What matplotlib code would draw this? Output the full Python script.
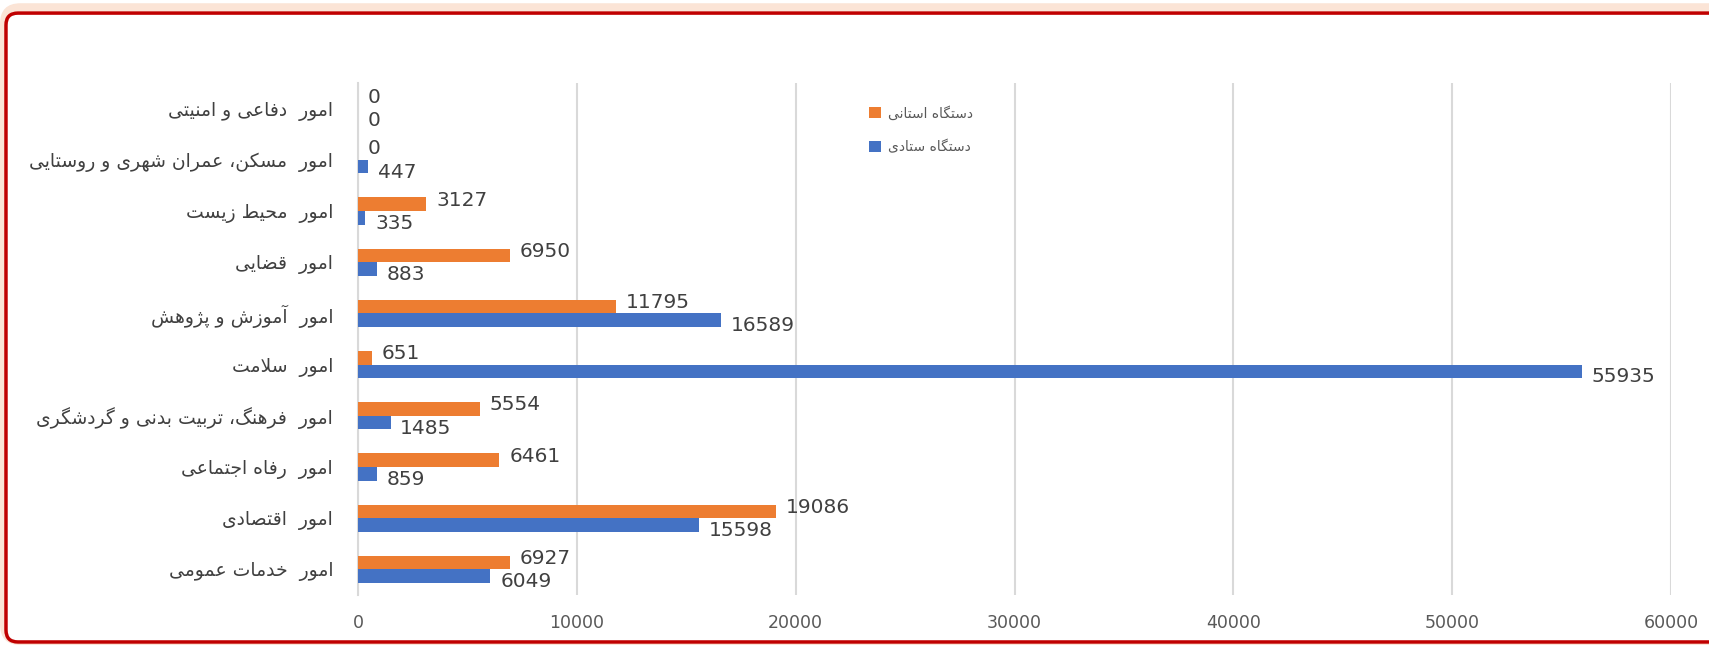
import matplotlib.pyplot as plt
from matplotlib.patches import FancyBboxPatch

# data, top to bottom as in the chart
categories = [
    "امور  دفاعی و امنیتی",
    "امور  مسکن، عمران شهری و روستایی",
    "امور  محیط زیست",
    "امور  قضایی",
    "امور  آموزش و پژوهش",
    "امور  سلامت",
    "امور  فرهنگ، تربیت بدنی و گردشگری",
    "امور  رفاه اجتماعی",
    "امور  اقتصادی",
    "امور  خدمات عمومی",
]
provincial = [0, 0, 3127, 6950, 11795, 651, 5554, 6461, 19086, 6927]
national = [0, 447, 335, 883, 16589, 55935, 1485, 859, 15598, 6049]
series_names = ["دستگاه استانی", "دستگاه ستادی"]
x_ticks = [0, 10000, 20000, 30000, 40000, 50000, 60000]

# tiny arabic/persian shaper: (isolated, final, initial, medial)
DUAL = {
    'ب': (0xFE8F, 0xFE90, 0xFE91, 0xFE92), 'پ': (0xFB56, 0xFB57, 0xFB58, 0xFB59),
    'ت': (0xFE95, 0xFE96, 0xFE97, 0xFE98), 'ث': (0xFE99, 0xFE9A, 0xFE9B, 0xFE9C),
    'ج': (0xFE9D, 0xFE9E, 0xFE9F, 0xFEA0), 'چ': (0xFB7A, 0xFB7B, 0xFB7C, 0xFB7D),
    'ح': (0xFEA1, 0xFEA2, 0xFEA3, 0xFEA4), 'خ': (0xFEA5, 0xFEA6, 0xFEA7, 0xFEA8),
    'س': (0xFEB1, 0xFEB2, 0xFEB3, 0xFEB4), 'ش': (0xFEB5, 0xFEB6, 0xFEB7, 0xFEB8),
    'ص': (0xFEB9, 0xFEBA, 0xFEBB, 0xFEBC), 'ض': (0xFEBD, 0xFEBE, 0xFEBF, 0xFEC0),
    'ط': (0xFEC1, 0xFEC2, 0xFEC3, 0xFEC4), 'ظ': (0xFEC5, 0xFEC6, 0xFEC7, 0xFEC8),
    'ع': (0xFEC9, 0xFECA, 0xFECB, 0xFECC), 'غ': (0xFECD, 0xFECE, 0xFECF, 0xFED0),
    'ف': (0xFED1, 0xFED2, 0xFED3, 0xFED4), 'ق': (0xFED5, 0xFED6, 0xFED7, 0xFED8),
    'ک': (0xFB8E, 0xFB8F, 0xFB90, 0xFB91), 'گ': (0xFB92, 0xFB93, 0xFB94, 0xFB95),
    'ل': (0xFEDD, 0xFEDE, 0xFEDF, 0xFEE0), 'م': (0xFEE1, 0xFEE2, 0xFEE3, 0xFEE4),
    'ن': (0xFEE5, 0xFEE6, 0xFEE7, 0xFEE8), 'ه': (0xFEE9, 0xFEEA, 0xFEEB, 0xFEEC),
    'ی': (0xFBFC, 0xFBFD, 0xFBFE, 0xFBFF),
}
RIGHT = {
    'ا': (0xFE8D, 0xFE8E), 'آ': (0xFE81, 0xFE82), 'د': (0xFEA9, 0xFEAA),
    'ذ': (0xFEAB, 0xFEAC), 'ر': (0xFEAD, 0xFEAE), 'ز': (0xFEAF, 0xFEB0),
    'ژ': (0xFB8A, 0xFB8B), 'و': (0xFEED, 0xFEEE),
}


def shape(text):
    out = []
    i = 0
    n = len(text)
    while i < n:
        c = text[i]
        prev_joins = i > 0 and text[i - 1] in DUAL
        if c == 'ل' and i + 1 < n and text[i + 1] == 'ا':
            out.append(chr(0xFEFC if prev_joins else 0xFEFB))
            i += 2
            continue
        nxt = text[i + 1] if i + 1 < n else ''
        next_joins = nxt in DUAL or nxt in RIGHT
        if c in DUAL:
            f = DUAL[c]
            if prev_joins and next_joins:
                out.append(chr(f[3]))
            elif prev_joins:
                out.append(chr(f[1]))
            elif next_joins:
                out.append(chr(f[2]))
            else:
                out.append(chr(f[0]))
        elif c in RIGHT:
            f = RIGHT[c]
            out.append(chr(f[1] if prev_joins else f[0]))
        else:
            out.append(c)
        i += 1
    return ''.join(reversed(out))


orange = '#ED7D31'
blue = '#4472C4'

fig = plt.figure(figsize=(17.09, 6.45), dpi=100)
asp = 1709 / 645

# soft peach glow behind, then the red rounded border (runs off the right edge)
glow = FancyBboxPatch((0.0, 0.0), 1.1, 0.995, boxstyle="round,pad=0,rounding_size=0.012",
                      transform=fig.transFigure, facecolor='#fbe4d6', edgecolor='none',
                      mutation_aspect=asp, zorder=-3)
frame = FancyBboxPatch((0.0035, 0.0047), 1.05, 0.975, boxstyle="round,pad=0,rounding_size=0.007",
                       transform=fig.transFigure, facecolor='white', edgecolor='#C00000',
                       linewidth=2.5, mutation_aspect=asp, zorder=-2)
fig.patches.extend([glow, frame])

ax = fig.add_axes([0.2095, 0.0775, 0.7683, 0.7938])
ax.set_facecolor('none')

h = 0.265
pos = list(range(len(categories)))
b1 = ax.barh([p - h / 2 for p in pos], provincial, height=h, color=orange,
             label=shape(series_names[0]), zorder=3)
b2 = ax.barh([p + h / 2 for p in pos], national, height=h, color=blue,
             label=shape(series_names[1]), zorder=3)

for rect, v in zip(b1, provincial):
    ax.annotate(str(v), (v, rect.get_y() + rect.get_height() / 2), xytext=(7, 3),
                textcoords='offset points', va='center', ha='left',
                fontsize=14.5, color='#404040')
for rect, v in zip(b2, national):
    ax.annotate(str(v), (v, rect.get_y() + rect.get_height() / 2), xytext=(7, -4),
                textcoords='offset points', va='center', ha='left',
                fontsize=14.5, color='#404040')

ax.set_xlim(0, 60000)
ax.set_ylim(len(categories) - 0.5, -0.5)
ax.set_xticks(x_ticks)
ax.set_xticklabels([str(t) for t in x_ticks])
ax.set_yticks(pos)
ax.set_yticklabels([shape(c) for c in categories])
ax.tick_params(axis='x', length=0, pad=14, labelsize=12.5, labelcolor='#595959')
ax.tick_params(axis='y', length=0, pad=18, labelsize=13.5, labelcolor='#404040')
ax.grid(axis='x', color='#d9d9d9', linewidth=1.5, zorder=0)
ax.set_axisbelow(True)
for s in ['top', 'right', 'bottom']:
    ax.spines[s].set_visible(False)
ax.spines['left'].set_color('#d9d9d9')
ax.spines['left'].set_linewidth(1.5)

leg = ax.legend(loc='upper left', bbox_to_anchor=(0.38, 0.98), frameon=False,
                fontsize=10, handlelength=0.8, handleheight=0.8, labelspacing=1.4,
                handletextpad=0.5)
for t in leg.get_texts():
    t.set_color('#595959')

fig.savefig('out.png', dpi=100)
